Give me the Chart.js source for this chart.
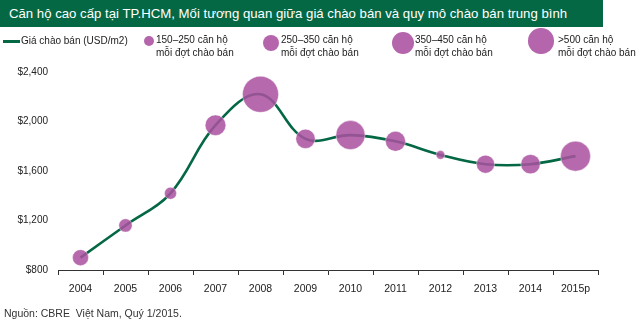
<!DOCTYPE html>
<html>
<head>
<meta charset="utf-8">
<script src="https://cdn.jsdelivr.net/npm/chart.js@4.4.1/dist/chart.umd.min.js"></script>
<style>
  html, body { margin: 0; padding: 0; background: #ffffff; }
  #wrap { position: relative; width: 640px; height: 324px; overflow: hidden; font-family: "Liberation Sans", Arial, sans-serif; color: #222; }
  #c { position: absolute; left: 0; top: 0; }
  #title { position: absolute; left: 0; top: 0; width: 603px; height: 27px; background: #056845; color: #fff; font-size: 13.2px; line-height: 27px; padding-left: 9px; box-sizing: border-box; white-space: nowrap; }
  .lg { position: absolute; font-size: 10px; line-height: 12.5px; color: #222; white-space: nowrap; }
  .dot { position: absolute; border-radius: 50%; background: rgba(170, 80, 160, 0.88); }
  #lline { position: absolute; left: 3px; top: 40px; width: 17px; height: 3px; background: #056845; }
  #src { position: absolute; left: 4px; top: 307px; font-size: 10.5px; color: #333; white-space: nowrap; }
</style>
</head>
<body>
<div id="wrap">
  <canvas id="c" width="640" height="324"></canvas>
  <div id="title">Căn hộ cao cấp tại TP.HCM, Mối tương quan giữa giá chào bán và quy mô chào bán trung bình</div>
  <div id="lline"></div>
  <div class="lg" style="left:21px; top:35px;">Giá chào bán (USD/m2)</div>
  <div id="legendBubbles"></div>
  <div id="src">Nguồn: CBRE&nbsp; Việt Nam, Quý 1/2015.</div>
</div>
<script>
// ---- data ----
const years = ['2004','2005','2006','2007','2008','2009','2010','2011','2012','2013','2014','2015p'];
const askingPrice = [900, 1160, 1420, 1970, 2220, 1860, 1890, 1840, 1730, 1655, 1655, 1720];
// estimated average units per offering
const unitsPerOffering = [240, 200, 180, 310, 540, 290, 435, 300, 130, 270, 290, 450];
const yTicks = [800, 1200, 1600, 2000, 2400];
const legendGroups = ['150–250', '250–350', '350–450', '>500'];
const legendUnits = [150, 240, 330, 380];
const lineLabel = 'Giá chào bán (USD/m2)';

// ---- styles ----
const GREEN = '#056845';
const PURPLE = 'rgba(170, 80, 160, 0.86)';
const radiusOf = u => u / 30;

// legend bubbles (HTML)
const lb = document.getElementById('legendBubbles');
const legendPos = [
  { cx: 149, cy: 41, tx: 156 },
  { cx: 270.5, cy: 43, tx: 281 },
  { cx: 403, cy: 43, tx: 415 },
  { cx: 541, cy: 41, tx: 558 }
];
legendGroups.forEach((g, i) => {
  const r = radiusOf(legendUnits[i]);
  const p = legendPos[i];
  const d = document.createElement('div');
  d.className = 'dot';
  d.style.left = (p.cx - r) + 'px';
  d.style.top = (p.cy - r) + 'px';
  d.style.width = (2 * r) + 'px';
  d.style.height = (2 * r) + 'px';
  lb.appendChild(d);
  const t = document.createElement('div');
  t.className = 'lg';
  t.style.left = p.tx + 'px';
  t.style.top = '34px';
  t.innerHTML = g + ' căn hộ<br>mỗi đợt chào bán';
  lb.appendChild(t);
});

new Chart(document.getElementById('c'), {
  type: 'line',
  data: {
    labels: years,
    datasets: [
      {
        label: 'bubbles',
        data: askingPrice,
        showLine: false,
        pointRadius: ctx => radiusOf(unitsPerOffering[ctx.dataIndex]),
        pointHoverRadius: ctx => radiusOf(unitsPerOffering[ctx.dataIndex]),
        pointBackgroundColor: PURPLE,
        pointBorderColor: 'rgba(255,255,255,0.5)',
        pointBorderWidth: 0.8,
        order: 0,
        clip: false
      },
      {
        label: lineLabel,
        data: askingPrice,
        borderColor: GREEN,
        borderWidth: 2.6,
        pointRadius: 0,
        tension: 0.38,
        fill: false,
        order: 1,
        clip: false
      }
    ]
  },
  options: {
    responsive: false,
    animation: false,
    events: [],
    layout: { padding: { top: 72, right: 42, bottom: 24, left: 0 } },
    plugins: { legend: { display: false }, tooltip: { enabled: false }, title: { display: false } },
    scales: {
      x: {
        offset: true,
        grid: { offset: true, drawOnChartArea: false, drawTicks: true, tickLength: 5, color: '#333', lineWidth: 1 },
        border: { display: true, color: '#333', width: 1 },
        ticks: { color: '#222', font: { family: 'Liberation Sans', size: 10.5 }, padding: 8, maxRotation: 0, autoSkip: false },
        afterFit: s => { s.height = 30; }
      },
      y: {
        min: yTicks[0],
        max: yTicks[yTicks.length - 1],
        afterBuildTicks: s => { s.ticks = yTicks.map(v => ({ value: v })); },
        grid: { display: false, drawTicks: false, tickLength: 0 },
        border: { display: false },
        ticks: {
          color: '#222',
          font: { family: 'Liberation Sans', size: 10 },
          padding: 10,
          callback: v => '$' + Number(v).toLocaleString('en-US')
        },
        afterFit: s => { s.width = 58; }
      }
    }
  }
});
</script>
</body>
</html>
